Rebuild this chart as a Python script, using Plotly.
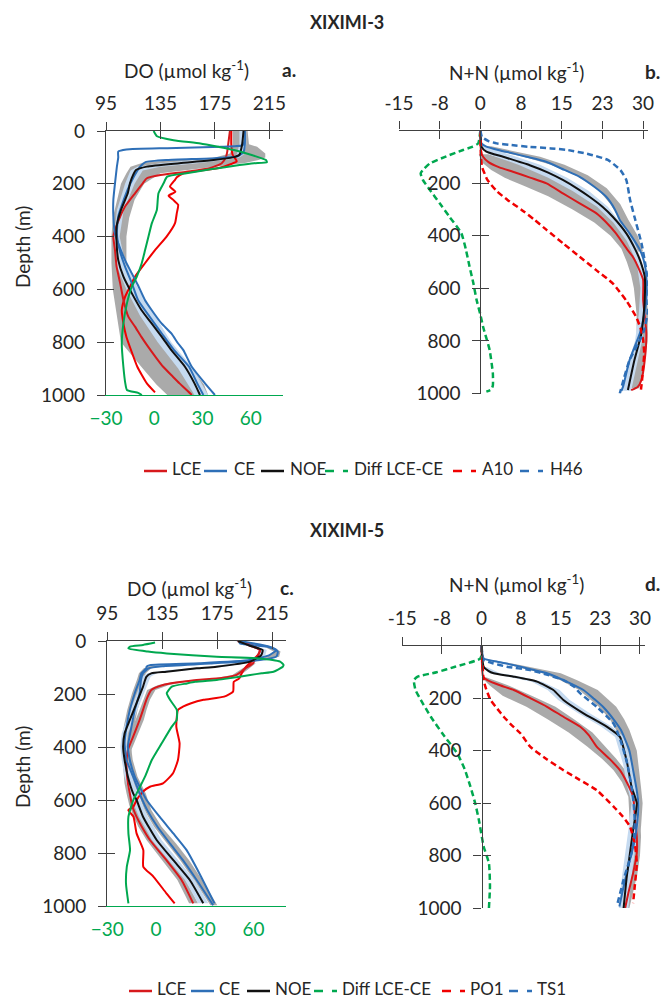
import plotly.graph_objects as go

W, H = 664, 998

# ======================= DATA =======================
# ---- Panel a : XIXIMI-3, dissolved oxygen (umol/kg) vs depth (m) ----
a_lce_depth = [0, 40, 80, 100, 122, 141, 154, 167, 179, 198, 236, 286, 324, 375, 400, 451, 514, 577, 640, 703, 741, 780, 818, 860, 893, 930, 956, 985, 1000]
a_lce_do = [186, 185, 184, 183, 180, 171, 154, 135, 125, 122, 116.3, 109, 105.4, 101.6, 100.4, 101.6, 102.8, 105.4, 107.8, 111.4, 116.3, 121, 126, 132, 137, 144, 149, 155, 158]

a_a10_depth = [0, 50, 90, 105, 115, 125, 140, 150, 160, 175, 185, 211, 230, 245, 261, 280, 311, 349, 400, 451, 501, 552, 590, 628, 678, 729, 780, 830, 893, 956, 990]
a_a10_do = [187, 187, 188, 190, 191, 187, 178, 165, 152, 147, 145.7, 142, 146, 141, 144.4, 148, 147, 145.7, 139.5, 131, 123.6, 116.3, 112.6, 109, 106.6, 107.8, 110, 113.4, 118, 125, 131]

a_ce1_depth = [0, 30, 50, 55, 60, 65, 70, 78, 100, 135, 198, 261, 324, 388, 426, 489, 540, 590, 640, 678, 729, 767, 805, 830, 893, 956, 1000]
a_ce1_do = [197, 197, 196, 195, 180, 140, 110, 104, 104, 103, 101.6, 100.4, 100.4, 101.6, 104, 109, 114, 119, 123.6, 128.5, 135.8, 143, 148, 151.8, 158, 167.7, 175]

a_ce2_depth = [0, 50, 80, 95, 103, 110, 118, 130, 150, 198, 261, 324, 388, 451, 514, 577, 640, 703, 767, 830, 893, 956, 1000]
a_ce2_do = [197, 197, 196, 192, 175, 140, 124, 121, 118, 113, 108, 104, 103, 105, 109, 114, 118.5, 127, 136, 145, 156, 162, 166.5]

a_noe_depth = [0, 50, 90, 100, 110, 122, 135, 148, 165, 198, 236, 299, 362, 426, 489, 552, 615, 678, 729, 780, 830, 893, 956, 1000]
a_noe_do = [196, 195, 193, 188, 174, 149, 125, 117, 115, 112.6, 111, 106, 102.8, 102.8, 104, 107.8, 114, 121, 128.5, 136, 143, 153, 160, 164]

a_diff_depth = [0, 20, 35, 47, 60, 72, 90, 110, 118, 122, 129, 145, 160, 173, 198, 236, 299, 349, 400, 451, 501, 552, 590, 653, 729, 805, 893, 956, 981, 992, 1000]
a_diff = [-0.4, 1.7, 12, 28.7, 40, 49.6, 60, 69.4, 70, 62, 53, 35, 20, 8, 5.8, 2.6, 1.6, -1.5, -3.6, -5.7, -7.8, -10.9, -14, -17, -19.2, -20.2, -19.2, -18, -17, -10, -7.7]

a_gray_depth = [0, 50, 60, 85, 100, 110, 120, 135, 160, 200, 260, 330, 400, 500, 600, 700, 800, 900, 960, 1000]
a_gray_lo = [188, 188, 188, 186, 175, 145, 122, 113, 110, 106, 103, 100, 99, 99, 100, 103, 106, 122, 132, 140]
a_gray_hi = [199, 200, 206, 212, 212, 207, 198, 175, 135, 123, 116, 112, 110, 110, 115, 125, 135, 158, 167, 170]

a_lb_depth = [0, 50, 90, 100, 110, 122, 135, 150, 200, 300, 400, 500, 600, 700, 800, 900, 1000]
a_lb_lo = [193, 193, 191, 182, 160, 135, 118, 113, 109, 103, 101, 102, 110, 120, 133, 148, 160]
a_lb_hi = [198, 198, 196, 193, 182, 162, 135, 122, 116, 108, 105, 109, 119, 131, 143, 159, 170]

# ---- Panel b : XIXIMI-3, nitrate+nitrite (umol/kg) ----
b_h46_depth = [0, 25, 40, 49, 55, 62, 68, 74, 90, 112, 150, 188, 264, 328, 429, 520, 581, 644, 700, 771, 873, 940, 1000]
b_h46 = [0, 0.3, 1.5, 3, 5.5, 9, 13, 16, 20, 23.5, 25.8, 26.9, 27.6, 28.4, 29.7, 30.5, 30.9, 31, 30.8, 30, 27.5, 26.5, 25.7]

b_ce_depth = [0, 49, 61, 75, 87, 100, 118, 150, 176, 214, 252, 300, 340, 391, 454, 500, 556, 644, 700, 771, 873, 974, 990]
b_ce = [0, 0.2, 1.1, 3.5, 6, 8.5, 12, 15.5, 18.3, 21, 23.2, 24.8, 25.7, 27.5, 29.4, 30.2, 30.6, 30.6, 30.2, 29.4, 27.5, 26.3, 26]

b_noe_depth = [0, 61, 80, 100, 132, 160, 188, 220, 252, 290, 328, 391, 450, 492, 556, 644, 700, 771, 873, 987]
b_noe = [0, 0.2, 1.1, 4.2, 9.1, 12.5, 15.2, 17.8, 20.1, 22.5, 24.4, 26.9, 28.5, 29.4, 30.3, 30.3, 30.1, 29.7, 28.4, 27.2]

b_lce_depth = [0, 74, 100, 120, 140, 157, 180, 201, 240, 277, 315, 345, 391, 450, 480, 530, 568, 644, 771, 873, 948, 975, 987]
b_lce = [0, 0.1, 0.5, 1.5, 3.5, 6, 9.3, 12.2, 15.3, 18.3, 21.4, 23, 25, 27, 28.1, 29.3, 30, 30, 30.6, 30.3, 29.7, 29, 27.8]

b_a10_depth = [0, 100, 138, 160, 188, 230, 264, 300, 340, 378, 430, 480, 530, 581, 650, 708, 750, 796, 850, 898, 950, 985]
b_a10 = [0, 0.1, 0.3, 0.7, 1.3, 3, 5, 7.5, 10, 12.2, 15.3, 18.3, 21.3, 24.4, 27, 28.7, 29.5, 30, 30.2, 30, 29.8, 29.6]

b_diff_depth = [0, 49, 62, 74, 100, 125, 150, 163, 188, 226, 277, 328, 391, 450, 517, 580, 644, 700, 746, 834, 923, 970, 985, 993]
b_diff = [0, -0.4, -1.5, -3.2, -6.5, -9.3, -10.6, -11, -10.6, -9.3, -7.5, -5.7, -3.5, -2.7, -2, -1.3, -0.7, 0, 0.5, 1.7, 2.3, 2.3, 2.0, 1.1]

b_grayR_depth = [90, 120, 150, 180, 210, 250, 300, 350, 400, 450, 500, 550, 600, 650, 700, 800, 900, 980]
b_grayR_lo = [-0.3, 0.2, 2, 4.5, 8, 12.5, 17, 21, 24, 26, 27, 27.8, 28.3, 28.6, 28.8, 28.8, 28, 27]
b_grayR_hi = [1.5, 6, 10, 13.5, 16.5, 19.5, 22.5, 25, 27, 28.5, 29.5, 30.2, 30.6, 30.8, 30.9, 30.8, 30.2, 29.3]

b_grayB_depth = [60, 80, 100, 130, 170, 220, 280, 340, 400, 460]
b_grayB_lo = [0.8, 3.5, 8, 13, 17.5, 21.5, 24, 25.7, 27.5, 29]
b_grayB_hi = [2, 6.5, 11, 15.5, 19.8, 23.3, 25.8, 27.3, 29, 30]

b_lb_depth = [60, 90, 130, 180, 230, 290, 350, 420, 500, 600, 700, 800, 900, 990]
b_lb_lo = [0, 1.5, 7, 12.5, 17, 21.5, 24.5, 27, 28.8, 29.5, 29.2, 28.5, 27, 26]
b_lb_hi = [0.8, 5, 11, 16, 20, 23.5, 25.8, 28.3, 29.8, 30.6, 30.5, 29.8, 28.8, 27.8]

# ---- Panel c : XIXIMI-5, dissolved oxygen ----
c_lce_depth = [0, 20, 34, 50, 65, 84, 105, 128, 140, 147, 157, 166, 185, 222, 260, 298, 361, 411, 474, 537, 575, 620, 660, 700, 751, 827, 902, 990]
c_lce = [190, 200, 206, 205, 203, 201, 195, 189, 178, 160, 145, 135.5, 127, 123.4, 121, 118.5, 113.8, 110, 109, 110, 111.4, 113, 116, 120, 126, 138, 149, 157.5]

c_a_depth = [0, 15, 34, 50, 72, 97, 120, 141, 154, 191, 210, 222, 235, 248, 260, 323, 386, 449, 499, 537, 550, 568, 600, 625, 638, 663, 726, 789, 852, 889, 952, 990]
c_a = [190, 200, 206, 205, 201, 196, 193, 191, 187, 186.5, 180, 165, 156, 150, 146.4, 145.2, 147.6, 146.4, 142.8, 135.5, 126, 121, 116.3, 114, 110.3, 114, 116.3, 121.2, 121.2, 128.5, 138, 144]

c_ce1_depth = [0, 9, 21, 34, 53, 72, 84, 91, 97, 103, 122, 147, 197, 260, 323, 386, 449, 512, 575, 600, 638, 701, 764, 827, 902, 997]
c_ce1 = [191, 191.5, 211, 218, 213, 198.8, 162, 126, 123.6, 123.4, 119.8, 118.5, 115, 111.4, 109, 107.6, 109, 113.8, 118.5, 120.5, 124, 131.5, 140.6, 150, 160, 172]

c_ce2_depth = [0, 21, 40, 59, 72, 85, 95, 103, 122, 147, 197, 260, 323, 398, 449, 512, 575, 600, 663, 726, 789, 877, 990]
c_ce2 = [191, 213, 219, 218, 206, 170, 135, 125, 121, 119.5, 118.5, 115, 112.6, 110, 111.4, 115, 121, 123.6, 133, 143, 152.7, 162, 173]

c_noe_depth = [0, 20, 34, 53, 78, 97, 103, 116, 122, 135, 172, 235, 298, 348, 398, 449, 512, 575, 600, 663, 751, 827, 902, 990]
c_noe = [190, 200, 208, 207, 198.8, 174.5, 160, 138, 127, 123.4, 121, 116.2, 111.4, 107.6, 106.5, 107.6, 110, 113.8, 116.3, 121, 130.9, 143, 155, 164.8]

c_diff_depth = [6, 15, 21, 28, 40, 47, 59, 65, 78, 90, 97, 116, 122, 128, 141, 147, 154, 160, 172, 197, 222, 260, 298, 323, 386, 449, 512, 575, 600, 663, 726, 789, 852, 915, 990]
c_diff = [-0.6, -8, -16, -17, -5, 6.6, 37.4, 62, 76.4, 78.5, 78, 72.3, 65, 58, 44.7, 37.4, 24, 19, 9.7, 6.6, 8.6, 12.8, 12.7, 9.7, 3.5, -2.6, -6.8, -11.9, -14, -17, -17, -16, -18, -18.5, -17]

c_grayR_depth = [84, 105, 128, 140, 147, 157, 166, 185, 222, 260, 298, 361, 411, 474, 537, 575, 620, 660, 700, 751, 827, 902, 990]
c_grayR_lo = [199, 193, 186, 174, 156, 141, 132, 124, 121, 118.5, 115.5, 111, 107.5, 106.5, 107.5, 109, 111, 114, 117.5, 123.5, 135, 146, 154.5]
c_grayR_hi = [203, 198, 192, 183, 165, 150, 140, 130, 126, 123.5, 121.5, 116.5, 112.5, 111.5, 112.5, 114, 116, 119, 123, 129, 141, 152, 161]

c_grayB_depth = [0, 21, 40, 59, 72, 84, 95, 103, 122, 147, 197, 260, 323, 386, 449, 512, 575, 638, 701, 764, 827, 902, 997]
c_grayB_lo = [189, 209, 216, 211, 197, 160, 125, 121.5, 118, 116.5, 113, 109.5, 107, 105.5, 107, 111.5, 117.5, 122, 129, 138.5, 148, 158, 170]
c_grayB_hi = [193, 215, 221, 220, 208, 172, 137, 127, 123, 121.5, 120.5, 117, 114.5, 112, 113.5, 117, 123, 127, 134.5, 145, 154.5, 164, 175]

c_lb_depth = [0, 34, 53, 78, 97, 110, 122, 135, 172, 235, 298, 348, 398, 449, 512, 575, 663, 751, 827, 902, 990]
c_lb_lo = [188, 205, 204, 195, 168, 138, 124, 120.5, 118.5, 113.5, 109, 105.5, 104.5, 105.5, 107.5, 111, 118, 127.5, 139.5, 151.5, 161]
c_lb_hi = [192, 211, 210, 202, 180, 152, 131, 126.5, 124, 119, 114, 110, 109, 110, 113, 117, 124.5, 134.5, 146.5, 158.5, 168.5]

# ---- Panel d : XIXIMI-5, nitrate+nitrite ----
d_ts1_depth = [0, 40, 53, 65, 79, 92, 110, 130, 155, 181, 232, 296, 359, 450, 537, 600, 664, 730, 791, 892, 994]
d_ts1 = [0, 0.2, 0.4, 2, 4.8, 9.2, 12.5, 15.5, 17.5, 18.7, 21.8, 25, 26.3, 27.6, 28.4, 28.8, 29, 28.9, 28.4, 26.9, 25.6]

d_ce_depth = [0, 47, 60, 73, 90, 104, 130, 168, 200, 232, 280, 321, 400, 474, 540, 600, 689, 750, 816, 918, 994]
d_ce = [0, 0.4, 3, 6.1, 9.5, 12.4, 15.5, 19.3, 21.2, 23, 25, 26.4, 28, 28.7, 29.3, 29.7, 29.4, 28.9, 28.1, 26.9, 26.1]

d_noe_depth = [0, 79, 95, 104, 117, 136, 168, 206, 257, 308, 347, 450, 537, 600, 702, 791, 880, 1000]
d_noe = [0, 0.4, 1.3, 2.3, 6.1, 10.5, 13.6, 15.5, 19.3, 23.7, 26.2, 27.6, 28.4, 29.4, 28.7, 28.1, 27.5, 26.9]

d_lce_depth = [0, 117, 130, 150, 168, 200, 232, 270, 308, 340, 384, 430, 474, 520, 575, 638, 727, 791, 867, 943, 1000]
d_lce = [0, 0.3, 1.1, 3.5, 6.1, 9.3, 12.4, 15.5, 18.7, 20.3, 21.8, 24.2, 26.2, 27.5, 28.7, 29, 29.4, 29.4, 28.7, 27.8, 27.2]

d_po1_depth = [0, 130, 160, 206, 240, 270, 300, 334, 384, 430, 474, 510, 550, 613, 650, 689, 753, 829, 918, 981]
d_po1 = [0, 0.4, 0.8, 1.7, 3, 4.2, 5.6, 7.4, 9.2, 12.2, 15.5, 18.5, 21.8, 25, 26.7, 28.1, 29, 29.4, 29, 28.7]

d_diff_depth = [0, 47, 79, 100, 117, 130, 168, 206, 270, 334, 410, 470, 537, 600, 664, 765, 829, 918, 1000]
d_diff = [0, -0.2, -5, -8.5, -12.1, -12.8, -12.5, -11.5, -9.6, -7.4, -4.6, -3.2, -2.1, -1.2, -0.5, 0.4, 1.4, 1.6, 1.4]

d_grayR_depth = [120, 150, 190, 232, 280, 330, 384, 430, 474, 520, 575, 640, 727, 800, 870, 940, 1000]
d_grayR_lo = [0, 1.5, 4, 8.5, 12.5, 16.5, 20, 22.8, 25, 26.6, 27.8, 28, 28.2, 28, 27.5, 26.8, 26.3]
d_grayR_hi = [1, 5, 9.5, 14, 17.5, 21, 23.5, 25.5, 27.2, 28.5, 29.5, 30, 30.2, 30, 29.5, 28.7, 28]

d_grayB_depth = [50, 73, 104, 130, 168, 232, 280, 321, 400, 474, 540, 600, 689, 800]
d_grayB_lo = [0.3, 5.5, 11.5, 14.8, 18.5, 22.2, 24.3, 25.5, 27.4, 28.2, 28.8, 29.2, 28.9, 27.8]
d_grayB_hi = [1, 7.5, 15, 18, 22, 25.5, 27, 28, 29.4, 29.8, 30.2, 30.5, 30.2, 29]

d_lb_depth = [80, 104, 117, 136, 168, 206, 257, 308, 347, 450, 537, 600, 702, 791, 880, 1000]
d_lb_lo = [0, 1.5, 5, 9.5, 12.5, 14.5, 18.3, 22.7, 25.3, 26.8, 27.6, 28.4, 27.8, 27.2, 26.6, 26]
d_lb_hi = [1, 3.5, 7.5, 11.5, 14.8, 16.7, 20.5, 24.7, 27, 28.4, 29.3, 30, 29.6, 29, 28.4, 27.8]

# axis tick values / labels
do_ticks = [95, 135, 175, 215]
diff_ticks = [-30, 0, 30, 60]
nn_ticks = [-15, -7.5, 0, 7.5, 15, 22.5, 30]
nn_ticktext = ["-15", "-8", "0", "8", "15", "23", "30"]
depth_ticks = [0, 200, 400, 600, 800, 1000]
depth_ticks_free = [200, 400, 600, 800, 1000]

legend1_labels = ["LCE", "CE", "NOE", "Diff LCE-CE", "A10", "H46"]
legend2_labels = ["LCE", "CE", "NOE", "Diff LCE-CE", "PO1", "TS1"]

# ======================= STYLE =======================
FONT = "Lato"
TXT = "#262626"
AX = "#404040"
RED = "#D7191C"
RED2 = "#F00000"
BLUE = "#2E6FB7"
GREEN = "#00A84F"
BLACK = "#111111"
GRAY = "rgba(170,170,170,1)"
LBLUE = "rgba(197,218,240,1)"
DASH = "6px,3.5px"


def px(xp):
    return xp / W


def py(yp):
    return 1 - yp / H


fig = go.Figure()


def band(depth, lo, hi, color, xa, ya):
    fig.add_trace(go.Scatter(
        x=list(lo) + list(hi)[::-1], y=list(depth) + list(depth)[::-1],
        fill="toself", fillcolor=color, line=dict(width=0),
        mode="lines", hoverinfo="skip", showlegend=False, xaxis=xa, yaxis=ya))


def line(depth, vals, color, xa, ya, width=2, dash=None, name=None):
    fig.add_trace(go.Scatter(
        x=vals, y=depth, mode="lines", name=name, showlegend=False,
        line=dict(color=color, width=width, dash=dash, shape="spline", smoothing=0.5),
        xaxis=xa, yaxis=ya))


# ---- panel a traces ----
band(a_gray_depth, a_gray_lo, a_gray_hi, GRAY, "x", "y")
band(a_lb_depth, a_lb_lo, a_lb_hi, LBLUE, "x", "y")
line(a_a10_depth, a_a10_do, RED2, "x", "y")
line(a_lce_depth, a_lce_do, RED, "x", "y")
line(a_ce1_depth, a_ce1_do, BLUE, "x", "y")
line(a_ce2_depth, a_ce2_do, BLUE, "x", "y")
line(a_noe_depth, a_noe_do, BLACK, "x", "y")
line(a_diff_depth, a_diff, GREEN, "x2", "y")

# ---- panel b traces ----
band(b_grayR_depth, b_grayR_lo, b_grayR_hi, GRAY, "x4", "y3")
band(b_grayB_depth, b_grayB_lo, b_grayB_hi, GRAY, "x4", "y3")
band(b_lb_depth, b_lb_lo, b_lb_hi, LBLUE, "x4", "y3")
line(b_lce_depth, b_lce, RED, "x4", "y3", name="LCE")
line(b_ce_depth, b_ce, BLUE, "x4", "y3", name="CE")
line(b_noe_depth, b_noe, BLACK, "x4", "y3", name="NOE")
line(b_diff_depth, b_diff, GREEN, "x4", "y3", width=2.5, dash=DASH, name="Diff LCE-CE")
line(b_a10_depth, b_a10, RED2, "x4", "y3", width=2.5, dash=DASH, name="A10")
line(b_h46_depth, b_h46, BLUE, "x4", "y3", width=2.5, dash=DASH, name="H46")

# ---- panel c traces ----
band(c_grayR_depth, c_grayR_lo, c_grayR_hi, GRAY, "x6", "y5")
band(c_grayB_depth, c_grayB_lo, c_grayB_hi, GRAY, "x6", "y5")
band(c_lb_depth, c_lb_lo, c_lb_hi, LBLUE, "x6", "y5")
line(c_a_depth, c_a, RED2, "x6", "y5")
line(c_lce_depth, c_lce, RED, "x6", "y5")
line(c_ce1_depth, c_ce1, BLUE, "x6", "y5")
line(c_ce2_depth, c_ce2, BLUE, "x6", "y5")
line(c_noe_depth, c_noe, BLACK, "x6", "y5")
line(c_diff_depth, c_diff, GREEN, "x7", "y5")

# ---- panel d traces ----
band(d_grayR_depth, d_grayR_lo, d_grayR_hi, GRAY, "x9", "y7")
band(d_grayB_depth, d_grayB_lo, d_grayB_hi, GRAY, "x9", "y7")
band(d_lb_depth, d_lb_lo, d_lb_hi, LBLUE, "x9", "y7")
line(d_lce_depth, d_lce, RED, "x9", "y7", name="LCE")
line(d_ce_depth, d_ce, BLUE, "x9", "y7", name="CE")
line(d_noe_depth, d_noe, BLACK, "x9", "y7", name="NOE")
line(d_diff_depth, d_diff, GREEN, "x9", "y7", width=2.5, dash=DASH, name="Diff LCE-CE")
line(d_po1_depth, d_po1, RED2, "x9", "y7", width=2.5, dash=DASH, name="PO1")
line(d_ts1_depth, d_ts1, BLUE, "x9", "y7", width=2.5, dash=DASH, name="TS1")

# empty carriers for the inner-tick overlay axes
for xa, ya in [("x3", "y2"), ("x5", "y4"), ("x8", "y6"), ("x10", "y8")]:
    fig.add_trace(go.Scatter(x=[], y=[], xaxis=xa, yaxis=ya, showlegend=False, hoverinfo="skip"))

tickfont = dict(family=FONT, size=19, color=TXT)
greenfont = dict(family=FONT, size=19, color=GREEN)

# panel geometry in pixels
A = dict(x0=106, x1=283, y0=131, y1=395)
B = dict(x0=399, x1=648, y0=130.5, y1=393.5, yx=480.4)
C = dict(x0=107.3, x1=286, y0=641, y1=906)
D = dict(x0=402.3, x1=645, y0=646, y1=908, yx=481.5)


def dom_x(P):
    return [px(P["x0"]), px(P["x1"])]


def dom_y(P):
    return [py(P["y1"]), py(P["y0"])]


common_top = dict(side="top", showgrid=False, zeroline=False, showline=True, linecolor=AX,
                  linewidth=1.2, ticks="outside", ticklen=8, tickwidth=1.2, tickcolor=AX,
                  tickfont=tickfont, ticklabelstandoff=4, automargin=False)
inner_x = dict(side="top", showgrid=False, zeroline=False, showline=False, ticks="inside",
               ticklen=8, tickwidth=1.2, tickcolor=AX, showticklabels=False, automargin=False)
depth_ax = dict(range=[1000, 0], showgrid=False, zeroline=False, showline=True, linecolor=AX,
                linewidth=1.2, ticks="outside", ticklen=8, tickwidth=1.2, tickcolor=AX,
                tickfont=tickfont, ticklabelstandoff=8, automargin=False)
inner_y = dict(range=[1000, 0], showgrid=False, zeroline=False, showline=False, ticks="inside",
               ticklen=8, tickwidth=1.2, tickcolor=AX, tickvals=depth_ticks, showticklabels=False,
               automargin=False)
diff_ax = dict(side="bottom", showgrid=False, zeroline=False, showline=True, linecolor=GREEN,
               linewidth=1.2, ticks="", tickvals=diff_ticks, tickfont=greenfont,
               ticklabelstandoff=6, range=[-30, 80], automargin=False)

lay = dict(
    # panel a
    xaxis=dict(domain=dom_x(A), range=[95, 225], anchor="y", tickvals=do_ticks, **common_top),
    xaxis2=dict(domain=dom_x(A), overlaying="x", anchor="y", **diff_ax),
    xaxis3=dict(domain=dom_x(A), overlaying="x", anchor="y", range=[95, 225], tickvals=do_ticks, **inner_x),
    yaxis=dict(domain=dom_y(A), anchor="x", tickvals=depth_ticks, **depth_ax),
    yaxis2=dict(domain=dom_y(A), anchor="x", overlaying="y", side="left", **inner_y),
    # panel b
    xaxis4=dict(domain=dom_x(B), range=[-15, 30.9], anchor="y3", tickvals=nn_ticks, ticktext=nn_ticktext, **common_top),
    xaxis5=dict(domain=dom_x(B), overlaying="x4", anchor="y3", range=[-15, 30.9], tickvals=nn_ticks, **inner_x),
    yaxis3=dict(domain=dom_y(B), anchor="free", position=px(B["yx"]), side="left",
                tickvals=depth_ticks_free, **depth_ax),
    yaxis4=dict(domain=dom_y(B), anchor="free", position=px(B["yx"]), overlaying="y3", side="left", **inner_y),
    # panel c
    xaxis6=dict(domain=dom_x(C), range=[95, 225], anchor="y5", tickvals=do_ticks, **common_top),
    xaxis7=dict(domain=dom_x(C), overlaying="x6", anchor="y5", **diff_ax),
    xaxis8=dict(domain=dom_x(C), overlaying="x6", anchor="y5", range=[95, 225], tickvals=do_ticks, **inner_x),
    yaxis5=dict(domain=dom_y(C), anchor="x6", tickvals=depth_ticks, **depth_ax),
    yaxis6=dict(domain=dom_y(C), anchor="x6", overlaying="y5", side="left", **inner_y),
    # panel d
    xaxis9=dict(domain=dom_x(D), range=[-15, 30.95], anchor="y7", tickvals=nn_ticks, ticktext=nn_ticktext, **common_top),
    xaxis10=dict(domain=dom_x(D), overlaying="x9", anchor="y7", range=[-15, 30.95], tickvals=nn_ticks, **inner_x),
    yaxis7=dict(domain=dom_y(D), anchor="free", position=px(D["yx"]), side="left",
                tickvals=depth_ticks_free, **depth_ax),
    yaxis8=dict(domain=dom_y(D), anchor="free", position=px(D["yx"]), overlaying="y7", side="left", **inner_y),
)
fig.update_layout(**lay)

# ---------- annotations ----------
ann = []


def text(x, y, s, size=19, bold=False, color=TXT, angle=0, xanchor="center"):
    ann.append(dict(x=px(x), y=py(y), xref="paper", yref="paper", text=("<b>%s</b>" % s) if bold else s,
                    showarrow=False, font=dict(family=FONT, size=size, color=color),
                    xanchor=xanchor, yanchor="middle", textangle=angle))


text(347, 22, "XIXIMI-3", size=18, bold=True)
text(347, 530, "XIXIMI-5", size=18, bold=True)
text(186.5, 70, "DO (µmol kg<sup>-1</sup>)")
text(288.5, 70, "a.", bold=True)
text(516.7, 72, "N+N (µmol kg<sup>-1</sup>)")
text(652, 72, "b.", bold=True)
text(189.5, 587, "DO (µmol kg<sup>-1</sup>)")
text(286.7, 587, "c.", bold=True)
text(516.7, 583, "N+N (µmol kg<sup>-1</sup>)")
text(652, 583, "d.", bold=True)
text(23, 247, "Depth (m)", angle=-90)
text(22, 767, "Depth (m)", angle=-90)

# ---------- manual legends ----------
shapes = []
leg_styles = [(RED, None, 2.5), (BLUE, None, 2.5), (BLACK, None, 2.5),
              (GREEN, "dash", 2.5), (RED2, "dash", 2.5), (BLUE, "dash", 2.5)]
row1_glyph = [144, 204, 261, 325, 453, 520]
row1_text = [170, 232, 288, 352, 480, 548]
row2_glyph = [129, 191, 247, 314, 442, 509]
row2_text = [155, 217, 273, 340, 468, 535]

for labels, gx, tx, ty, ly in [(legend1_labels, row1_glyph, row1_text, 468, 471),
                               (legend2_labels, row2_glyph, row2_text, 988, 991)]:
    for lab, g, t, (col, dsh, lw) in zip(labels, gx, tx, leg_styles):
        shapes.append(dict(type="line", xref="paper", yref="paper", x0=px(g), x1=px(g + 23),
                           y0=py(ly), y1=py(ly), line=dict(color=col, width=lw, dash=dsh)))
        text(t, ty, lab, size=17, xanchor="left")

fig.update_layout(
    width=W, height=H, autosize=False,
    margin=dict(l=0, r=0, t=0, b=0, pad=0),
    paper_bgcolor="white", plot_bgcolor="rgba(0,0,0,0)",
    showlegend=False, annotations=ann, shapes=shapes,
    font=dict(family=FONT, color=TXT),
)

fig.write_html("out.html", config={"displayModeBar": False, "responsive": False},
               post_script="document.body.style.margin='0px';document.body.style.overflow='hidden';")
